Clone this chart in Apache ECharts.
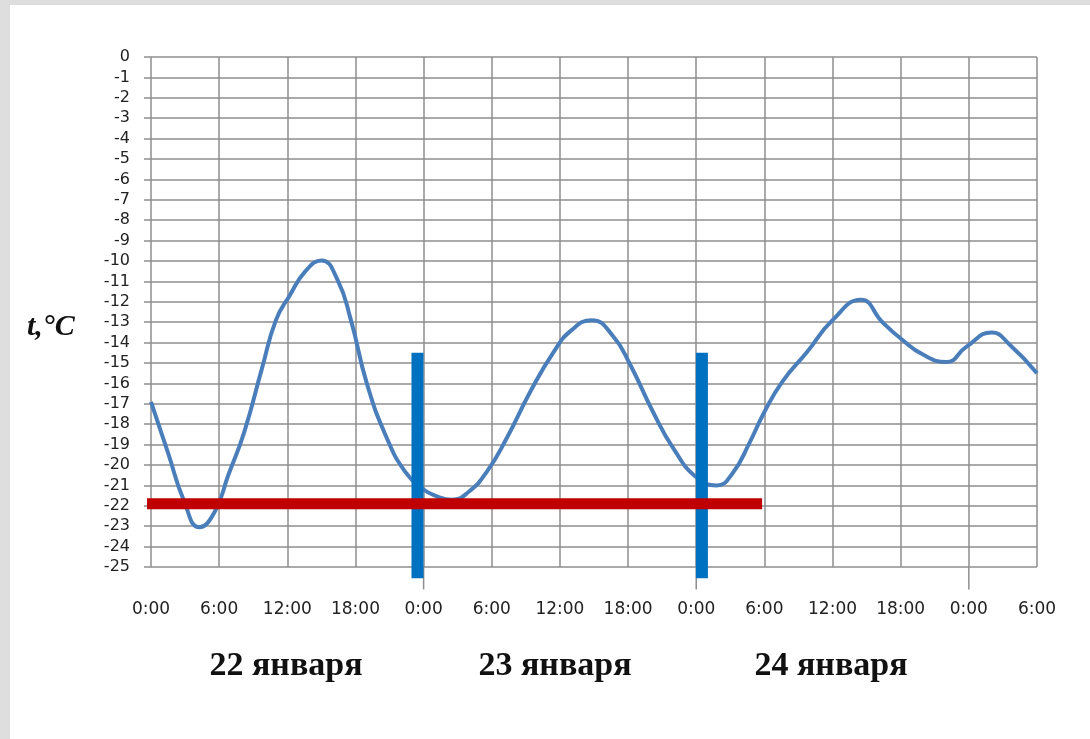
<!DOCTYPE html>
<html><head><meta charset="utf-8">
<script src="https://cdn.jsdelivr.net/npm/echarts@6/dist/echarts.min.js"></script>
<style>
html,body{margin:0;padding:0;background:#dedede;width:1090px;height:739px;overflow:hidden;}
#frame{position:absolute;left:10px;top:5px;width:1080px;height:734px;background:#fff;}
#c{position:absolute;left:0;top:0;width:1090px;height:739px;}
</style>
</head><body><div id="frame"></div><div id="c"></div>
<script>
// Hours since 0:00 of 22 January
const hours = [0, 1.5, 2.9, 4.25, 5.6, 6.8, 8.2, 9.8, 11, 12.2, 13.6, 15, 16.4, 17.6, 19, 20.7, 22.4, 24,
  25, 26.5, 28, 29.6, 31.3, 33.4, 35.4, 37, 38.8, 40.7, 42.2, 44.2, 46, 48,
  49.8, 51.2, 52.7, 54, 55.6, 57.7, 60, 62.5, 64.4, 66, 68, 70, 71.8, 74, 75.6, 78];
const temps = [-16.9, -19.4, -21.75, -23.05, -22.3, -20.5, -18.4, -15.2, -12.9, -11.7, -10.5, -9.97, -10.9, -12.9, -16.0, -18.6, -20.35, -21.2,
  -21.5, -21.7, -21.3, -20.3, -18.7, -16.4, -14.5, -13.4, -12.9, -13.7, -15.1, -17.4, -19.2, -20.6,
  -21.0, -20.4, -18.9, -17.4, -15.9, -14.5, -12.9, -11.9, -13.0, -13.8, -14.6, -14.95, -14.2, -13.5, -14.1, -15.5];
const xTickLabels = ['0:00','6:00','12:00','18:00','0:00','6:00','12:00','18:00','0:00','6:00','12:00','18:00','0:00','6:00'];
const dayLabels = ['22 января', '23 января', '24 января'];
const markerHours = [23.46, 48.5];
const markerRange = [-14.5, -25.55];
const thresholdTemp = -21.9;
const thresholdRange = [-0.35, 53.8];
const dayTickHours = [24, 48, 72];
const dayTickRange = [-25, -26.1];

const chart = echarts.init(document.getElementById('c'), null, {renderer: 'canvas'});
const gridColor = '#8e8e8e';
const series = [];
series.push({
  type: 'line', data: hours.map((h, i) => [h, temps[i]]), smooth: 0.5, showSymbol: false,
  lineStyle: {color: '#4a7ebb', width: 4}, z: 3
});
markerHours.forEach(h => series.push({
  type: 'line', data: [[h, markerRange[0]], [h, markerRange[1]]], showSymbol: false, clip: false,
  lineStyle: {color: '#0070c0', width: 12, cap: 'butt'}, z: 4
}));
series.push({
  type: 'line', data: [[thresholdRange[0], thresholdTemp], [thresholdRange[1], thresholdTemp]], showSymbol: false, clip: false,
  lineStyle: {color: '#c00000', width: 11, cap: 'butt'}, z: 5
});
dayTickHours.forEach(h => series.push({
  type: 'line', data: [[h, dayTickRange[0]], [h, dayTickRange[1]]], showSymbol: false, clip: false,
  lineStyle: {color: gridColor, width: 1.5}, z: 1
}));

chart.setOption({
  backgroundColor: 'transparent',
  animation: false,
  grid: {left: 151, right: 53, top: 57, bottom: 172},
  xAxis: {
    type: 'value', min: 0, max: 78, interval: 6,
    axisLine: {show: false}, axisTick: {show: false},
    splitLine: {show: true, lineStyle: {color: gridColor, width: 1.5}},
    axisLabel: {margin: 34, fontFamily: 'DejaVu Sans', fontSize: 17, color: '#222',
      formatter: v => xTickLabels[Math.round(v / 6)]}
  },
  yAxis: {
    type: 'value', min: -25, max: 0, interval: 1,
    axisLine: {show: false},
    axisTick: {show: true, length: 7, lineStyle: {color: gridColor, width: 1.5}},
    splitLine: {show: true, lineStyle: {color: gridColor, width: 1.5}},
    axisLabel: {margin: 21, fontFamily: 'DejaVu Sans', fontSize: 16, color: '#222'}
  },
  graphic: [
    {type: 'text', left: 27, top: 312, style: {text: 't,°C', font: 'italic bold 30px "Liberation Serif"', fill: '#111'}},
    {type: 'text', x: 286, y: 666, style: {text: dayLabels[0], font: 'bold 34px "Liberation Serif"', fill: '#111', align: 'center', verticalAlign: 'middle'}},
    {type: 'text', x: 555, y: 666, style: {text: dayLabels[1], font: 'bold 34px "Liberation Serif"', fill: '#111', align: 'center', verticalAlign: 'middle'}},
    {type: 'text', x: 831, y: 666, style: {text: dayLabels[2], font: 'bold 34px "Liberation Serif"', fill: '#111', align: 'center', verticalAlign: 'middle'}}
  ],
  series: series
});
</script>
</body></html>
